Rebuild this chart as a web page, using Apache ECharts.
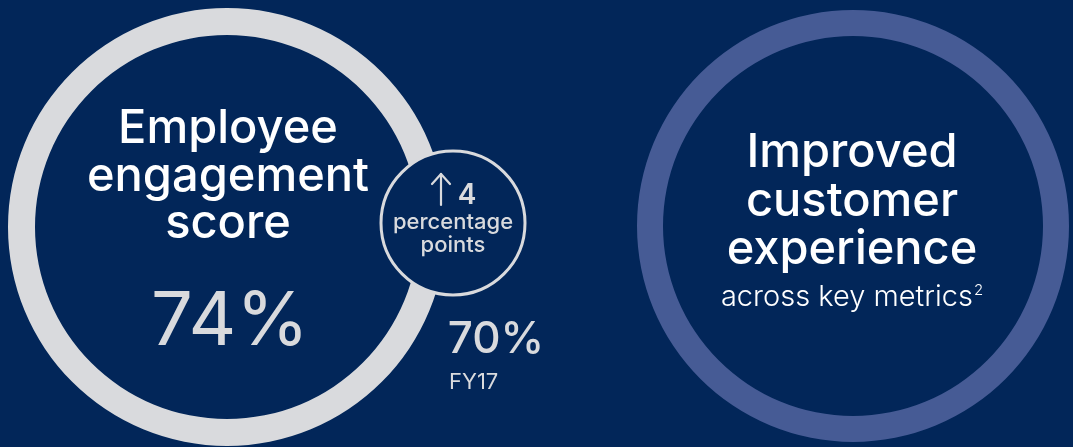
<!DOCTYPE html>
<html>
<head>
<meta charset="utf-8">
<style>
html,body{margin:0;padding:0;background:#022659;}
#chart{width:1073px;height:447px;}
</style>
<script src="https://cdn.jsdelivr.net/npm/echarts@6/dist/echarts.min.js"></script>
</head>
<body>
<div id="chart"></div>
<script>
// ---- data ----
const engagementTitle = ['Employee', 'engagement', 'score'];
const engagementCurrent = 74;   // %
const engagementPrior = 70;     // %
const priorLabel = 'FY17';
const changePoints = 4;         // percentage points
const changeLabel = ['percentage', 'points'];
const customerTitle = ['Improved', 'customer', 'experience'];
const customerSub = 'across key metrics';
const customerFootnote = '2';
const ringValues = [1];         // full rings

const BG = '#022659';
const GRAY = '#d9dadd';
const BLUE = '#465b95';
const FONT = 'Inter, "Open Sans", sans-serif';

const chart = echarts.init(document.getElementById('chart'), null, {renderer: 'canvas'});

function ring(center, radius, color, z, extra) {
  return Object.assign({
    type: 'pie', center: center, radius: radius, silent: true, animation: false,
    label: {show: false}, labelLine: {show: false}, z: z,
    itemStyle: {color: color},
    data: ringValues.map(v => ({value: v}))
  }, extra || {});
}

function txt(text, x, y, size, weight, color, extra) {
  return {
    type: 'text', x: x, y: y, z: 100,
    style: Object.assign({
      text: text, fill: color || '#ffffff', font: weight + ' ' + size + 'px ' + FONT,
      align: 'center', verticalAlign: 'middle'
    }, extra || {})
  };
}

function seg(x1, y1, x2, y2) {
  return {type: 'line', z: 100, shape: {x1: x1, y1: y1, x2: x2, y2: y2},
    style: {stroke: GRAY, lineWidth: 2.2, lineCap: 'round'}};
}

const graphics = [
  txt(engagementTitle[0], 228, 129, 47, 500),
  txt(engagementTitle[1], 228, 177, 47, 500),
  txt(engagementTitle[2], 228, 224, 47, 500),
  txt(engagementCurrent + '%', 230, 323, 74, 400, GRAY),
  // up arrow
  seg(441, 174, 441, 205), seg(441, 174, 432, 184), seg(441, 174, 450, 184),
  txt(String(changePoints), 467, 196, 28, 600, GRAY),
  txt(changeLabel[0], 453, 222, 22, 500, GRAY),
  txt(changeLabel[1], 453, 245, 22, 500, GRAY),
  txt(engagementPrior + '%', 496, 340, 44, 500, GRAY),
  txt(priorLabel, 449, 382, 22, 400, GRAY, {align: 'left'}),
  txt(customerTitle[0], 852, 153, 47, 500),
  txt(customerTitle[1], 852, 202, 47, 500),
  txt(customerTitle[2], 852, 250, 47, 500),
  {
    type: 'text', x: 852, y: 297, z: 100,
    style: {
      text: '{a|' + customerSub + '}{s|' + customerFootnote + '}',
      align: 'center', verticalAlign: 'middle',
      rich: {
        a: {fontFamily: FONT, fontSize: 29, fontWeight: 300, fill: '#ffffff'},
        s: {fontFamily: FONT, fontSize: 15, fontWeight: 300, fill: '#ffffff', verticalAlign: 'top', padding: [0, 0, 14, 1]}
      }
    }
  }
];

chart.setOption({
  backgroundColor: BG,
  animation: false,
  series: [
    ring([227, 227], [192, 219], GRAY, 1),
    ring([453, 223], [0, 72], BG, 2, {itemStyle: {color: BG, borderColor: GRAY, borderWidth: 3}}),
    ring([853, 226], [190, 216], BLUE, 1)
  ],
  graphic: graphics
});
</script>
</body>
</html>
